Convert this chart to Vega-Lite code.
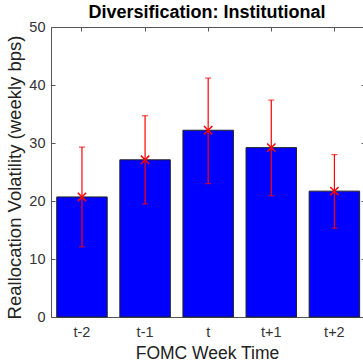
{
  "$schema": "https://vega.github.io/schema/vega-lite/v6.json",
  "autosize": {"type": "none"},
  "width": 312,
  "height": 290,
  "padding": {"left": 51, "top": 27, "right": 0, "bottom": 45},
  "background": "white",
  "title": {
    "text": "Diversification: Institutional",
    "font": "Liberation Sans",
    "fontSize": 18,
    "fontWeight": "bold",
    "color": "#000000",
    "anchor": "middle",
    "offset": -3
  },
  "config": {
    "view": {"stroke": null},
    "axis": {
      "labelFont": "Liberation Sans",
      "titleFont": "Liberation Sans",
      "labelFontSize": 14.5,
      "titleFontSize": 17.5,
      "titleFontWeight": "normal",
      "labelColor": "#333333",
      "titleColor": "#222222",
      "domainColor": "#555555",
      "tickColor": "#555555",
      "grid": false
    }
  },
  "data": {
    "values": [
      {"t": "t-2", "v": 20.7, "lo": 12.1, "hi": 29.3},
      {"t": "t-1", "v": 27.1, "lo": 19.5, "hi": 34.7},
      {"t": "t", "v": 32.2, "lo": 23.0, "hi": 41.2},
      {"t": "t+1", "v": 29.2, "lo": 20.9, "hi": 37.4},
      {"t": "t+2", "v": 21.7, "lo": 15.3, "hi": 28.0}
    ]
  },
  "layer": [
    {
      "mark": {"type": "bar", "color": "#0000FF", "stroke": "#222222", "strokeWidth": 1},
      "encoding": {
        "x": {
          "field": "t", "type": "nominal", "sort": null,
          "scale": {"paddingInner": 0.2, "paddingOuter": 0.072, "align": 0.63},
          "axis": {"orient": "bottom", "title": "FOMC Week Time", "labelAngle": 0, "tickSize": -4, "labelPadding": 12, "titlePadding": 6}
        },
        "y": {
          "field": "v", "type": "quantitative",
          "scale": {"domain": [0, 50], "nice": false},
          "axis": {"orient": "left", "title": "Reallocation Volatility (weekly bps)", "titleFontSize": 18.5, "titleY": 150, "values": [0, 10, 20, 30, 40, 50], "tickSize": -4, "labelPadding": 10, "titlePadding": 4}
        }
      }
    },
    {
      "mark": {"type": "rule", "color": "#FF0000", "strokeWidth": 1.2},
      "encoding": {
        "x": {"field": "t", "type": "nominal", "sort": null, "axis": {"orient": "top", "title": null, "labels": false, "tickSize": -4, "domain": true}},
        "y": {"field": "lo", "type": "quantitative", "axis": {"orient": "right", "title": null, "labels": false, "domain": false, "values": [0, 10, 20, 30, 40, 50], "tickSize": -2}},
        "y2": {"field": "hi"}
      }
    },
    {
      "mark": {"type": "tick", "color": "#FF0000", "orient": "horizontal", "size": 6, "thickness": 1.2},
      "encoding": {
        "x": {"field": "t", "type": "nominal", "sort": null, "axis": null},
        "y": {"field": "lo", "type": "quantitative", "axis": null}
      }
    },
    {
      "mark": {"type": "tick", "color": "#FF0000", "orient": "horizontal", "size": 6, "thickness": 1.2},
      "encoding": {
        "x": {"field": "t", "type": "nominal", "sort": null, "axis": null},
        "y": {"field": "hi", "type": "quantitative", "axis": null}
      }
    },
    {
      "mark": {"type": "point", "shape": "M-1,-1L1,1M-1,1L1,-1", "filled": false, "stroke": "#FF0000", "strokeWidth": 1.5, "size": 70, "opacity": 1},
      "encoding": {
        "x": {"field": "t", "type": "nominal", "sort": null, "axis": null},
        "y": {"field": "v", "type": "quantitative", "axis": null}
      }
    }
  ]
}
